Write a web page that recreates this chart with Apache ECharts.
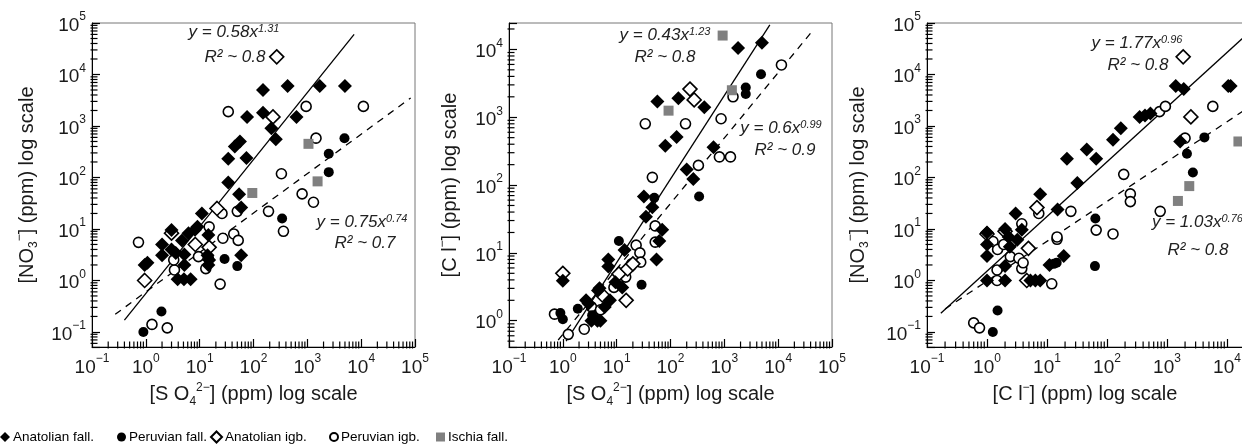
<!DOCTYPE html>
<html><head><meta charset="utf-8">
<script src="https://cdn.jsdelivr.net/npm/echarts@6/dist/echarts.min.js"></script>
<style>html,body{margin:0;padding:0;background:#fff}#c{width:1242px;height:447px}</style>
</head><body><div id="c"></div>
<script>
// ---------- Panel 1 : [SO4 2-] vs [NO3-] ----------
const p1AnaFall = [[0.95,2],[1.07,2.2],[2,5],[2,3.1],[3,9.5],[3,4],[3.6,3.4],[4.7,6],[5.2,3.2],[5.2,2],[3.9,1.05],[5.1,1.05],[6.8,1.05],[6.2,8.3],[8.2,9.6],[9.1,11],[11,20],[14.5,7.6],[14,3.1],[15,2.5],[14.5,2],[34,230],[34,80],[45,400],[56,500],[74,240],[76,1500],[54,47],[59,26],[59,3.1],[150,5000],[150,1800],[215,900],[260,550],[430,6000],[630,1500],[1700,6000],[5000,6000]];
const p1AnaIgb = [[0.95,1],[3,8.3],[8.3,5],[15,4.4],[21,25],[230,1500],[270,22000]];
const p1PerFall = [[0.9,0.1],[1.95,0.25],[15,2.7],[29,2.6],[50,1.9],[340,16],[2500,290],[2500,127],[4900,580]];
const p1PerIgb = [[0.73,5.5],[1.3,0.14],[2.5,0.12],[3.4,1.6],[3.3,2.5],[9.5,2.9],[13,1.7],[15,11],[24,0.85],[26,20],[27,6.6],[34,1900],[43,8],[52,6],[50,22],[190,22],[330,118],[360,9],[800,48],[950,2400],[1300,33],[1450,580],[11000,2400]];
const p1Ischia = [[95,50],[1050,450],[1550,84]];
const p1FitSolid = [[0.4,0.17],[7400,60000]];
const p1FitDash = [[0.27,0.22],[83000,3500]];

// ---------- Panel 2 : [SO4 2-] vs [Cl-] ----------
const p2AnaFall = [[1,3.9],[2.7,2],[3,1.8],[3.4,1],[4.4,1],[5,1],[4.5,2.8],[4.8,3],[6,1.6],[7,8],[7,6.3],[7.5,2],[9.5,3.7],[12.7,3.1],[14,11],[32,68],[35,34],[46,47],[55,8],[62,15],[70,22],[57,1700],[80,380],[130,510],[140,1900],[200,170],[265,123],[425,1400],[630,360],[1800,10500],[5000,12500]];
const p2AnaIgb = [[1,5],[5.4,2.4],[11,4.9],[15,2],[16,5.8],[20,6.9],[230,2600],[275,1800]];
const p2PerFall = [[0.9,1.3],[1,1.05],[1.9,1.5],[3.5,1.2],[11,15],[29,3.4],[50,65],[340,68],[2500,2750],[2500,2200],[4800,4300]];
const p2PerIgb = [[0.7,1.25],[1.26,0.63],[2.5,0.75],[3.4,1.6],[5,1.45],[8.9,3.1],[14.7,4.4],[19,6.9],[23,13],[27,10],[28,7.3],[34,800],[46,130],[52,25],[52,14.4],[190,800],[330,195],[870,950],[810,260],[1300,260],[1450,2000],[11500,5900]];
const p2Ischia = [[92,1250],[930,16000],[1380,2500]];
const p2FitSolid = [[1.15,0.5],[7000,23000]];
const p2FitDash = [[0.82,0.52],[44000,19000]];

// ---------- Panel 3 : [Cl-] vs [NO3-] ----------
const p3AnaFall = [[1,8.5],[1,5],[1,3],[1,1],[2,10],[2,1.9],[2,1],[2.3,7],[2.4,4.5],[3,20],[3.8,9.6],[3.2,6.2],[7.7,47],[5.3,1],[6.4,1],[7.7,1],[11,2],[19,3],[15,24],[21.5,230],[32,78],[46,350],[66,230],[126,540],[170,900],[350,1500],[430,1600],[530,1750],[1400,6000],[1900,5200],[1660,500],[10500,6000],[11500,6000]];
const p3AnaIgb = [[1,8],[2,9],[4.9,4.2],[4.6,1],[6.8,26],[1860,22000],[2500,1500]];
const p3PerFall = [[1.25,0.1],[1.5,0.26],[13,2.1],[14.5,2.2],[64,16],[63,1.9],[2150,290],[2700,125],[4200,600]];
const p3PerIgb = [[0.6,0.15],[0.75,0.12],[1.26,5.7],[1.47,1.6],[1.47,1],[1.5,4],[1.9,5],[2.45,2.9],[3.4,2.7],[3.8,1.7],[4,2.2],[3.8,12.6],[7.3,20],[12,0.86],[14.7,6.3],[14.7,7],[25,22],[66,9.5],[126,8],[190,115],[245,48],[245,34],[770,22],[750,1900],[940,2400],[2000,580],[5800,2400]];
const p3Ischia = [[1520,35],[2350,68],[15500,500]];
const p3FitSolid = [[0.17,0.23],[18000,50000]];
const p3FitDash = [[0.2,0.28],[18000,1900]];

// axis ranges
const xRange = [0.1, 100000];
const y1Range = [0.051, 100000];
const y2Range = [0.41, 24500];
// log-axis minor tick multipliers and decades
const minorMultipliers = [2,3,4,5,6,7,8,9];
const decades = [-2,-1,0,1,2,3,4,5];

const FONT = 'Liberation Sans';
const TXT = '#1a1a1a';

function decadeLabel(v){
  const e = Math.log10(v), r = Math.round(e);
  if (Math.abs(e - r) > 1e-6) return '';
  return '{b|10}{s|' + (r < 0 ? '\u2212' + (-r) : r) + '}';
}
const tickRich = {
  b:{fontSize:19, fontFamily:FONT, color:TXT, lineHeight:24, verticalAlign:'bottom'},
  s:{fontSize:12, fontFamily:FONT, color:TXT, lineHeight:12, verticalAlign:'top'}
};
const nameRich = {
  m:{fontSize:20, fontFamily:FONT, color:TXT, lineHeight:26},
  sp:{fontSize:20, fontFamily:FONT, color:TXT, lineHeight:26, letterSpacing:1.5},
  sub:{fontSize:12, fontFamily:FONT, color:TXT, lineHeight:12, verticalAlign:'bottom'},
  sup:{fontSize:12, fontFamily:FONT, color:TXT, lineHeight:12, verticalAlign:'top'}
};
const NAME_SO4 = '{m|[S O}{sub|4}{sup|2\u2212}{m|] (ppm) }{sp|log scale}';
const NAME_CL_X = '{m|[C l}{sup|\u2212}{m|] (ppm) }{sp|log scale}';
const NAME_NO3 = '{m|[NO}{sub|3}{sup|\u2212}{m|] (ppm) }{sp|log scale}';
const NAME_CL_Y = '{m|[C l}{sup|\u2212}{m|] (ppm) }{sp|log scale}';

function axisCommon(gi, range){
  return {
    type:'log', logBase:10, gridIndex:gi, min:range[0], max:range[1], splitNumber:10,
    axisLine:{show:true, onZero:false, lineStyle:{color:'#000', width:1}},
    axisTick:{show:true, inside:true, length:8, lineStyle:{color:'#000', width:1.2}},
    minorTick:{show:false},
    splitLine:{show:false}, minorSplitLine:{show:false},
    axisLabel:{formatter:decadeLabel, color:TXT, rich:tickRich, showMinLabel:true, showMaxLabel:true, margin:6},
    nameLocation:'middle', nameTextStyle:{rich:nameRich}
  };
}
function xAx(gi, range, name, pad){
  const a = axisCommon(gi, range);
  a.name = name; a.nameGap = 27;
  if (pad) a.nameTextStyle.padding = pad;
  return a;
}
function yAx(gi, range, name, gap){
  const a = axisCommon(gi, range);
  a.name = name; a.nameGap = gap; a.nameRotate = 90;
  return a;
}

function scat(name, data, gi, sym, size, fill, border, z){
  return {type:'scatter', name, data, xAxisIndex:gi, yAxisIndex:gi, symbol:sym, symbolSize:size,
    itemStyle:{color:fill, borderColor:border || fill, borderWidth:border ? 1.6 : 0, opacity:1},
    emphasis:{disabled:true}, silent:true, z};
}
function fit(data, gi, dashed){
  return {type:'line', data, xAxisIndex:gi, yAxisIndex:gi, symbol:'none', silent:true, clip:true,
    lineStyle:{color:'#000', width:1.3, type: dashed ? [7,6] : 'solid'}, z:1};
}
// minor ticks of the log axes, placed through the axes' own scales as thin bar symbols
function minorTicks(gi, xr, yr){
  const xt = [], yt = [];
  decades.forEach(e => minorMultipliers.forEach(m => {
    const v = m * Math.pow(10, e);
    if (v > xr[0] && v < xr[1]) xt.push([v, yr[0]]);
    if (v > yr[0] && v < yr[1]) yt.push([xr[0], v]);
  }));
  const base = {type:'scatter', xAxisIndex:gi, yAxisIndex:gi, silent:true, clip:false, z:10, symbol:'rect'};
  return [
    Object.assign({}, base, {data:xt, symbolSize:[1.2, 7], symbolOffset:[0, -2], itemStyle:{color:'#000', opacity:1}}),
    Object.assign({}, base, {data:yt, symbolSize:[7, 1.2], symbolOffset:[2, 0], itemStyle:{color:'#000', opacity:1}})
  ];
}
function panel(gi, ana, anaIgb, per, perIgb, isc, fs, fd, xr, yr){
  return [
    fit(fs, gi, false), fit(fd, gi, true),
    scat('Peruvian igb.', perIgb, gi, 'circle', 10, '#fff', '#000', 2),
    scat('Anatolian igb.', anaIgb, gi, 'diamond', 14, '#fff', '#000', 3),
    scat('Anatolian fall.', ana, gi, 'diamond', 14, '#000', null, 4),
    scat('Peruvian fall.', per, gi, 'circle', 10, '#000', null, 5),
    scat('Ischia fall.', isc, gi, 'rect', 10, '#808080', null, 6),
    ...minorTicks(gi, xr, yr)
  ];
}

const annRich = {s:{fontSize:11, fontStyle:'italic', fontFamily:FONT, fill:'#222', color:'#222', verticalAlign:'top', lineHeight:10}};
function ann(x, y, main, sup, align){
  return {type:'text', x, y, z:100, style:{
    text: main + (sup ? '{s|' + sup + '}' : ''), rich: annRich,
    font: 'italic 17px "' + FONT + '"', fontSize:17, fontStyle:'italic', fontFamily:FONT,
    fill:'#222', align: align || 'center', textAlign: align || 'center',
    verticalAlign:'middle', textVerticalAlign:'middle'}};
}

const legendItems = [
  {name:'Anatolian fall.', left:0, w:10, h:10},
  {name:'Peruvian fall.', left:117, w:9, h:9},
  {name:'Anatolian igb.', left:210, w:11, h:11},
  {name:'Peruvian igb.', left:329, w:8, h:8},
  {name:'Ischia fall.', left:436, w:9, h:9}
];

const gridBase = {top:23, height:324, show:true, borderColor:'#777', borderWidth:1, outerBoundsMode:'none', containLabel:false};
const option = {
  backgroundColor:'#fff',
  animation:false,
  grid:[
    Object.assign({left:92, width:323}, gridBase),
    Object.assign({left:509, width:323}, gridBase),
    Object.assign({left:927, width:360}, gridBase)
  ],
  xAxis:[
    xAx(0, xRange, NAME_SO4),
    xAx(1, xRange, NAME_SO4),
    xAx(2, xRange, NAME_CL_X, [0, 44, 0, 0])
  ],
  yAxis:[
    yAx(0, y1Range, NAME_NO3, 52),
    yAx(1, y2Range, NAME_CL_Y, 46),
    yAx(2, y1Range, NAME_NO3, 56)
  ],
  legend: legendItems.map(it => ({
    data:[it.name], left:it.left, top:430, padding:0, itemWidth:it.w, itemHeight:it.h, itemGap:0,
    selectedMode:false, textStyle:{fontSize:13.5, fontFamily:FONT, color:'#000', padding:[0,0,0,-2]}
  })),
  series:[
    ...panel(0, p1AnaFall, p1AnaIgb, p1PerFall, p1PerIgb, p1Ischia, p1FitSolid, p1FitDash, xRange, y1Range),
    ...panel(1, p2AnaFall, p2AnaIgb, p2PerFall, p2PerIgb, p2Ischia, p2FitSolid, p2FitDash, xRange, y2Range),
    ...panel(2, p3AnaFall, p3AnaIgb, p3PerFall, p3PerIgb, p3Ischia, p3FitSolid, p3FitDash, xRange, y1Range)
  ],
  graphic:[
    ann(234, 32, 'y = 0.58x', '1.31'), ann(235, 57, 'R\u00b2 ~ 0.8'),
    ann(362, 222, 'y = 0.75x', '0.74'), ann(365, 243, 'R\u00b2 ~ 0.7'),
    ann(665, 35, 'y = 0.43x', '1.23'), ann(665, 57, 'R\u00b2 ~ 0.8'),
    ann(781, 128, 'y = 0.6x', '0.99'), ann(785, 150, 'R\u00b2 ~ 0.9'),
    ann(1137, 43, 'y = 1.77x', '0.96'), ann(1138, 65, 'R\u00b2 ~ 0.8'),
    ann(1152, 222, 'y = 1.03x', '0.76', 'left'), ann(1198, 250, 'R\u00b2 ~ 0.8')
  ]
};
const chart = echarts.init(document.getElementById('c'));
chart.setOption(option);
</script></body></html>
